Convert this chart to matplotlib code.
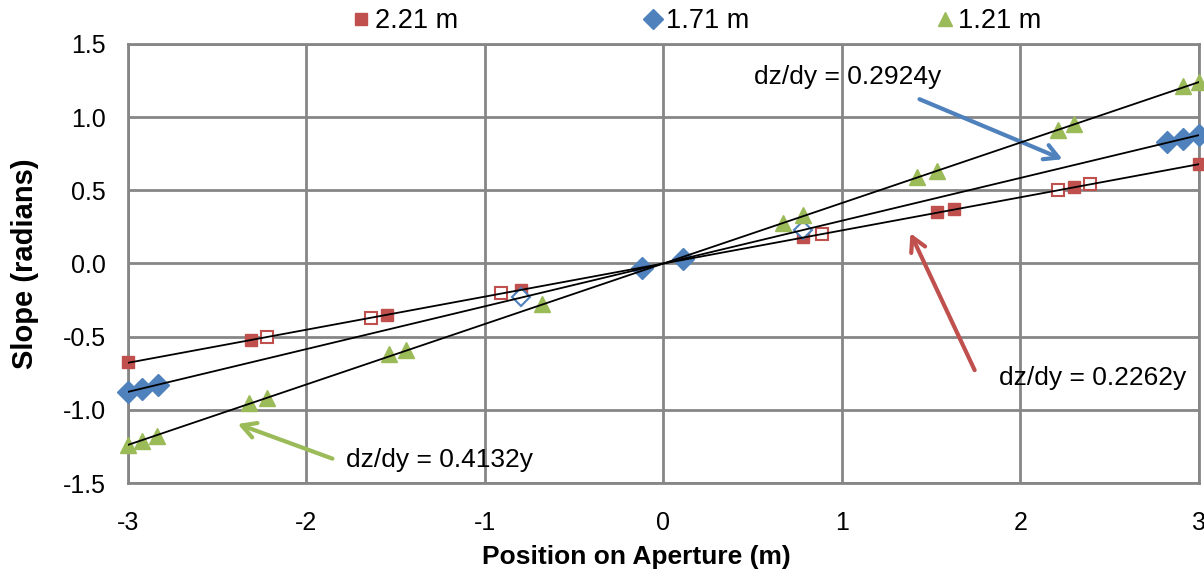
import numpy as np
import matplotlib
matplotlib.use("Agg")
import matplotlib.pyplot as plt

plt.rcParams['font.family'] = ['Liberation Sans', 'DejaVu Sans']
plt.rcParams['axes.unicode_minus'] = False

# 测量数据: 孔径位置 (m) 与斜率 (rad)
red_x = [-3.0, -2.31, -1.55, -0.80, 0.78, 1.53, 1.63, 2.30, 3.0]
red_y = [-0.67, -0.52, -0.35, -0.18, 0.18, 0.35, 0.37, 0.52, 0.68]
red_open_x = [-2.22, -1.64, -0.91, 0.89, 2.21, 2.39]
red_open_y = [-0.50, -0.37, -0.20, 0.20, 0.50, 0.54]

blue_x = [-3.0, -2.92, -2.83, -0.12, 0.11, 2.82, 2.91, 3.0]
blue_y = [-0.88, -0.86, -0.83, -0.03, 0.03, 0.83, 0.85, 0.88]
blue_open_x = [-0.80, 0.78]
blue_open_y = [-0.23, 0.23]

green_x = [-3.0, -2.92, -2.84, -2.32, -2.22, -1.54, -1.44, -0.68,
           0.67, 0.78, 1.42, 1.53, 2.21, 2.30, 2.91, 3.0]
green_y = [-1.24, -1.21, -1.18, -0.95, -0.92, -0.62, -0.59, -0.28,
           0.28, 0.33, 0.59, 0.63, 0.91, 0.95, 1.21, 1.24]

labels = ['2.21 m', '1.71 m', '1.21 m']
slopes = [0.2262, 0.2924, 0.4132]
fit_x = [-3.0, 3.0]

RED = '#C0504D'
BLUE = '#4F81BD'
GREEN = '#9BBB59'
GRID = '#868686'

fig = plt.figure(figsize=(12.04, 5.71), dpi=100)
ax = fig.add_axes([0.1063, 0.1541, 0.8895, 0.7689])

# 散点 (边缘点不裁剪)
ax.plot(red_x, red_y, 's', color=RED, ms=9, mec=RED, zorder=3, clip_on=False, label=labels[0])
ax.plot(red_open_x, red_open_y, 's', ms=8, mfc='white', mec=RED, mew=1.5, zorder=3, clip_on=False)
ax.plot(blue_x, blue_y, 'D', color=BLUE, ms=11, mec=BLUE, zorder=3, clip_on=False, label=labels[1])
ax.plot(blue_open_x, blue_open_y, 'D', ms=9, mfc='white', mec=BLUE, mew=1.5, zorder=3, clip_on=False)
ax.plot(green_x, green_y, '^', color=GREEN, ms=11, mec=GREEN, zorder=3, clip_on=False, label=labels[2])

# 线性拟合
for k in slopes:
    ax.plot(fit_x, [k * v for v in fit_x], color='black', lw=1.3, zorder=4)

# 拟合公式标注
arrow_kw = dict(arrowstyle='->,head_length=1.0,head_width=0.55', lw=3)
ax.annotate('', xy=(2.25, 0.705), xytext=(1.42, 1.13),
            arrowprops=dict(color=BLUE, **arrow_kw))
ax.text(1.034, 1.275, f'dz/dy = {slopes[1]}y', fontsize=19, ha='center', va='center')
ax.annotate('', xy=(1.377, 0.224), xytext=(1.75, -0.746),
            arrowprops=dict(color=RED, **arrow_kw))
ax.text(2.406, -0.783, f'dz/dy = {slopes[0]}y', fontsize=19, ha='center', va='center')
ax.annotate('', xy=(-2.40, -1.09), xytext=(-1.84, -1.34),
            arrowprops=dict(color=GREEN, **arrow_kw))
ax.text(-1.252, -1.341, f'dz/dy = {slopes[2]}y', fontsize=19, ha='center', va='center')

ax.set_xlim(-3, 3)
ax.set_ylim(-1.5, 1.5)
ax.set_xticks(np.arange(-3, 4, 1))
ax.set_yticks(np.arange(-1.5, 1.51, 0.5))
ax.set_yticklabels([f'{v:.1f}' for v in np.arange(-1.5, 1.51, 0.5)])
ax.tick_params(length=0, labelsize=18)
ax.tick_params(axis='x', pad=20)
ax.tick_params(axis='y', pad=16)
ax.grid(True, color=GRID, lw=2)
for s in ax.spines.values():
    s.set_color(GRID)
    s.set_linewidth(2)
ax.set_axisbelow(True)

ax.set_xlabel('Position on Aperture (m)', fontsize=19, fontweight='bold')
ax.xaxis.set_label_coords(0.475, -0.141)
ax.set_ylabel('Slope (radians)', fontsize=21, fontweight='bold')
ax.yaxis.set_label_coords(-0.083, 0.5)

fig.legend(loc='center', bbox_to_anchor=(0.579, 0.963), ncol=3, frameon=False,
           fontsize=19.5, handlelength=0.6, handletextpad=0.2, columnspacing=6.9,
           markerscale=0.9, borderpad=0)

plt.savefig('out.png', dpi=100)
plt.close()
